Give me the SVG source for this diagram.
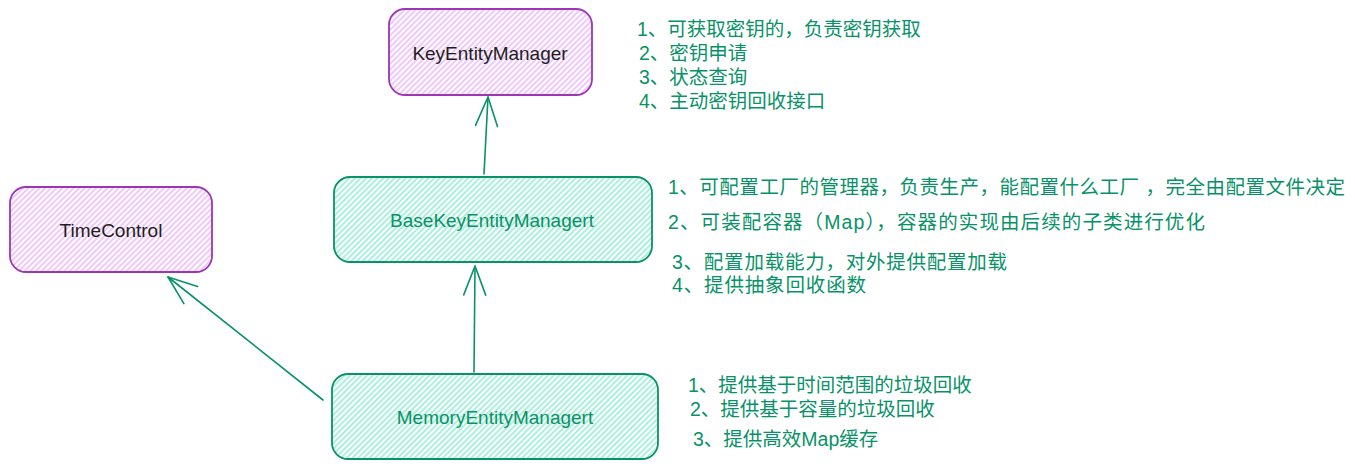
<svg xmlns="http://www.w3.org/2000/svg" width="1355" height="470" viewBox="0 0 1355 470">
<defs>
<pattern id="hatchP" width="4" height="4" patternUnits="userSpaceOnUse" patternTransform="rotate(45)"><line x1="1" y1="0" x2="1" y2="4" stroke="#e599f7" stroke-width="1.1"/></pattern>
<pattern id="hatchG" width="4" height="4" patternUnits="userSpaceOnUse" patternTransform="rotate(45)"><line x1="1" y1="0" x2="1" y2="4" stroke="#63e6be" stroke-width="1.1"/></pattern>
<marker id="ah" markerUnits="userSpaceOnUse" viewBox="-32 -14 36 28" refX="0" refY="0" markerWidth="36" markerHeight="28" orient="auto" overflow="visible">
<path d="M-29,-11 L0,0 L-29,11" fill="none" stroke="#099268" stroke-width="1.6" stroke-linecap="round" stroke-linejoin="round"/>
</marker>
</defs>
<style>
.bp{fill:url(#hatchP);stroke:#9c36b5;stroke-width:1.8}
.bg{fill:url(#hatchG);stroke:#099268;stroke-width:1.8}
.lbl{font-family:"Liberation Sans","Noto Sans",sans-serif;font-size:19px;text-anchor:middle;dominant-baseline:central}
.dark{fill:#1e1e1e}
.grn{fill:#099268}
.note{font-family:"Liberation Sans","Noto Sans CJK SC",sans-serif;font-size:19.5px;fill:#099268;dominant-baseline:central}
.conn{fill:none;stroke:#099268;stroke-width:1.6;stroke-linecap:round}
</style>
<rect width="1355" height="470" fill="#ffffff"/>
<g id="connectors">
<line class="conn" x1="484" y1="174" x2="488" y2="97" marker-end="url(#ah)"/>
<line class="conn" x1="474" y1="372" x2="475" y2="266" marker-end="url(#ah)"/>
<line class="conn" x1="323" y1="400" x2="168" y2="277" marker-end="url(#ah)"/>
</g>
<g id="KeyEntityManager">
<rect class="bp" x="389" y="9" width="203" height="86" rx="16"/>
<text class="lbl dark" x="490" y="53">KeyEntityManager</text>
</g>
<g id="BaseKeyEntityManagert">
<rect class="bg" x="334" y="177" width="318" height="85" rx="16"/>
<text class="lbl grn" x="492" y="220">BaseKeyEntityManagert</text>
</g>
<g id="TimeControl">
<rect class="bp" x="10" y="187" width="202" height="85" rx="16"/>
<text class="lbl dark" x="111" y="230">TimeControl</text>
</g>
<g id="MemoryEntityManagert">
<rect class="bg" x="332" y="374" width="326" height="85" rx="16"/>
<text class="lbl grn" x="495" y="417">MemoryEntityManagert</text>
</g>
<g id="notes-key">
<text class="note" x="637" y="29">1、可获取密钥的，负责密钥获取</text>
<text class="note" x="639" y="53">2、密钥申请</text>
<text class="note" x="639" y="77">3、状态查询</text>
<text class="note" x="639" y="101">4、主动密钥回收接口</text>
</g>
<g id="notes-base">
<text class="note" x="668" y="187" textLength="677" lengthAdjust="spacing">1、可配置工厂的管理器，负责生产，能配置什么工厂 ，完全由配置文件决定</text>
<text class="note" x="668" y="222" textLength="537" lengthAdjust="spacing">2、可装配容器（Map），容器的实现由后续的子类进行优化</text>
<text class="note" x="672" y="262" textLength="335" lengthAdjust="spacing">3、配置加载能力，对外提供配置加载</text>
<text class="note" x="672" y="285" textLength="194" lengthAdjust="spacing">4、提供抽象回收函数</text>
</g>
<g id="notes-memory">
<text class="note" x="688" y="385">1、提供基于时间范围的垃圾回收</text>
<text class="note" x="690" y="409">2、提供基于容量的垃圾回收</text>
<text class="note" x="693" y="439">3、提供高效Map缓存</text>
</g>
</svg>
